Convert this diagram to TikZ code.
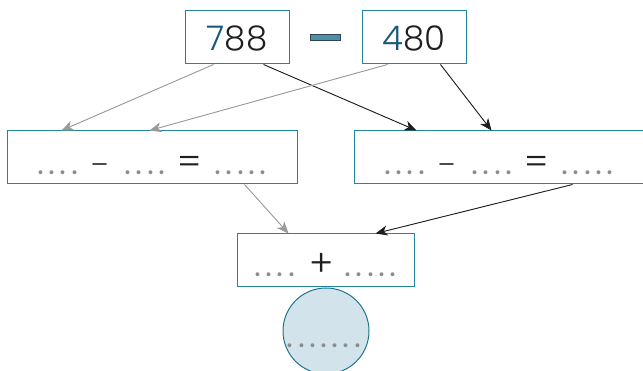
\documentclass[tikz,border=0pt]{standalone}
\usepackage{fontspec}
\setmainfont{Poppins}[UprightFont=*-Light, BoldFont=*-Regular]
\usetikzlibrary{arrows.meta}
\definecolor{frame}{HTML}{2384A0}
\definecolor{digitblue}{HTML}{16587A}
\definecolor{digitgray}{HTML}{1F1F1F}
\definecolor{barfill}{HTML}{4D8FA9}
\definecolor{barline}{HTML}{34444C}
\definecolor{ballfill}{HTML}{D3E3EC}
\definecolor{ballline}{HTML}{1C7591}
\definecolor{dotgray}{HTML}{8C8C8C}
\definecolor{lightarr}{HTML}{9A9A9A}
\definecolor{darkarr}{HTML}{1E1E1E}
% a row of gray blanks
\newcommand{\blanks}[2][4.4pt]{{\color{dotgray}\fontsize{38}{38}\selectfont\foreach \i in {1,...,#2}{\ifnum\i>1\kern #1\fi.}}}

\begin{document}
\begin{tikzpicture}[
  x=1pt, y=-1pt,
  numbox/.style={draw=frame, line width=1pt, minimum width=104pt, minimum height=53pt,
                 inner sep=0pt, text height=40pt, text depth=13pt, text=digitgray,
                 font=\fontsize{34}{34}\selectfont},
  sumbox/.style={draw=frame, line width=1pt, minimum width=290pt, minimum height=53pt, inner sep=0pt,
                 text height=44pt, text depth=9pt, text=digitgray, font=\fontsize{27}{27}\selectfont},
  arrlight/.style={-{Stealth[length=12pt, width=10pt, inset=3.5pt]}, draw=lightarr, fill=lightarr, line width=0.9pt},
  arrdark/.style={-{Stealth[length=12pt, width=10pt, inset=3.5pt]}, draw=darkarr, fill=darkarr, line width=0.9pt}
]
\useasboundingbox (0,0) rectangle (643,371);

\node[numbox] (first) at (237,37.5) {\textcolor{digitblue}{7}88};
\node[numbox] (second) at (414,37.5) {\textcolor{digitblue}{4}80};
\node[draw=barline, fill=barfill, line width=0.8pt, minimum width=30pt, minimum height=6pt, inner sep=0pt] (bar) at (325.5,37.5) {};

\node[sumbox] (left) at (152,157.5)
  {\blanks{4}\hspace{13pt}\textendash\hspace{16pt}\blanks{4}\hspace{12pt}{\fontsize{36}{36}\selectfont =}\hspace{13pt}\blanks{5}};
\node[sumbox] (right) at (499,157.5)
  {\blanks{4}\hspace{13pt}\textendash\hspace{16pt}\blanks{4}\hspace{12pt}{\fontsize{36}{36}\selectfont =}\hspace{13pt}\blanks{5}};

\node[sumbox, minimum width=177pt, text height=43pt, text depth=10pt] (total) at (325.5,260.5)
  {\blanks{4}\hspace{14pt}{\fontsize{37}{37}\selectfont +}\hspace{11pt}\blanks{5}};

\node[circle, draw=ballline, fill=ballfill, line width=1pt, minimum size=86pt, inner sep=0pt] (ball) at (326,331) {};
\node[inner sep=0pt, anchor=base] (ballrow) at (324,348) {\blanks[4.3pt]{7}};

\draw[arrlight] ([xshift=29pt]first.south west) -- ([xshift=55pt]left.north west);
\draw[arrdark]  ([xshift=79pt]first.south west) -- ([xshift=63pt]right.north west);
\draw[arrlight] ([xshift=26pt]second.south west) -- ([xshift=143pt]left.north west);
\draw[arrdark]  ([xshift=79pt]second.south west) -- ([xshift=138pt]right.north west);
\draw[arrlight] ([xshift=238pt]left.south west) -- ([xshift=52pt]total.north west);
\draw[arrdark]  ([xshift=219pt]right.south west) -- ([xshift=139pt]total.north west);
\end{tikzpicture}
\end{document}
